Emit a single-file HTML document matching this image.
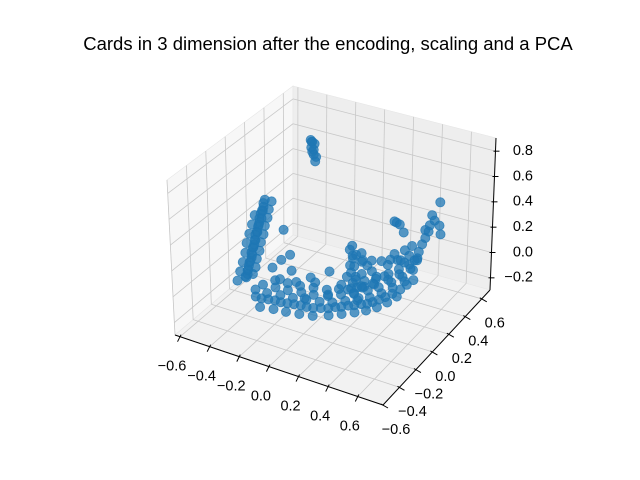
<!DOCTYPE html>
<html><head><meta charset="utf-8"><style>
html,body{margin:0;padding:0;background:#fff;}
svg{display:block;font-family:"Liberation Sans","DejaVu Sans",sans-serif;}
</style></head><body>
<svg id="chart" width="640" height="480" viewBox="0 0 640 480" xmlns="http://www.w3.org/2000/svg">
<rect width="640" height="480" fill="#fff"/>
<text x="328" y="50" text-anchor="middle" font-size="18.5" fill="#000">Cards in 3 dimension after the encoding, scaling and a PCA</text>
<g id="panes"></g>
<g id="grid"></g>
<g id="axes"></g>
<g id="points"></g>
</svg>
<script>
const xTicks=[-0.6,-0.4,-0.2,0.0,0.2,0.4,0.6];
const yTicks=[-0.6,-0.4,-0.2,0.0,0.2,0.4,0.6];
const zTicks=[-0.2,0.0,0.2,0.4,0.6,0.8];
const xTickLabels=["−0.6","−0.4","−0.2","0.0","0.2","0.4","0.6"];
const yTickLabels=["−0.6","−0.4","−0.2","0.0","0.2","0.4","0.6"];
const zTickLabels=["−0.2","0.0","0.2","0.4","0.6","0.8"];
const xVals=[
-0.25,-0.24,-0.23,-0.24,-0.23,-0.24,-0.23,-0.22,-0.22,-0.25,
-0.31,-0.32,-0.32,-0.33,-0.34,-0.35,-0.35,-0.36,-0.37,-0.38,-0.38,-0.39,-0.40,-0.41,-0.41,-0.42,-0.43,-0.44,-0.44,-0.45,
-0.30,-0.31,-0.33,-0.34,-0.36,-0.37,-0.38,-0.40,-0.41,-0.43,
-0.42,-0.38,-0.34,-0.30,-0.26,-0.22,-0.18,-0.14,-0.10,-0.06,-0.02,0.02,0.05,0.08,0.11,0.14,0.17,0.20,0.22,0.24,0.26,0.28,0.30,0.31,0.32,
-0.40,-0.32,-0.24,-0.16,-0.08,0.00,0.06,0.12,0.18,0.22,0.26,0.29,0.31,
-0.36,-0.28,-0.20,-0.12,-0.04,0.04,0.10,0.16,0.21,0.25,0.28,0.30,
0.05,0.10,0.15,0.20,0.24,0.27,0.30,0.32,-0.10,-0.20,-0.30,
0.14,0.16,0.15,0.17,0.16,0.18,0.17,0.19,0.18,0.20,0.13,0.12,0.14,0.21,0.22,0.20,
0.32,0.33,0.34,0.35,0.30,0.31,0.36,0.28,0.26,0.24,
0.38,0.36,0.40,0.37,
0.46,0.265,0.29,0.30,0.157,-0.25,-0.27,-0.24,-0.30,-0.20,-0.10,0.00,-0.05,0.05,0.10,0.22,0.40,0.42,
-0.29,-0.31,-0.32,-0.34,-0.35,-0.37,-0.38,-0.40,-0.41,-0.43,
-0.33,-0.35,-0.37,-0.39,-0.40,-0.42,-0.44,-0.46,
-0.44,-0.36,-0.28,-0.20,-0.12,-0.04,0.03,0.09,0.15,0.20,0.24,0.27,0.30,
-0.34,-0.26,-0.18,-0.10,-0.02,0.04,0.10,0.16,0.20,0.25,0.28,0.31,
0.18,0.20,0.22,0.24,0.19,0.23,0.25,0.27,0.26,0.28,0.30,0.16,0.21,0.29,0.33];
const yVals=[
0.30,0.30,0.31,0.29,0.30,0.30,0.30,0.31,0.30,0.31,
-0.10,-0.10,-0.10,-0.10,-0.10,-0.10,-0.10,-0.10,-0.10,-0.10,-0.10,-0.10,-0.10,-0.10,-0.10,-0.10,-0.10,-0.10,-0.10,-0.10,
-0.14,-0.14,-0.14,-0.14,-0.14,-0.14,-0.14,-0.14,-0.14,-0.14,
-0.05,-0.05,-0.04,-0.03,-0.03,-0.02,-0.01,0.00,0.00,0.01,0.03,0.05,0.08,0.10,0.13,0.15,0.18,0.20,0.23,0.27,0.31,0.36,0.42,0.48,0.54,
0.00,0.01,0.02,0.04,0.05,0.08,0.13,0.18,0.24,0.30,0.38,0.46,0.55,
-0.10,-0.08,-0.07,-0.05,-0.03,0.02,0.07,0.12,0.17,0.23,0.30,0.38,
0.15,0.20,0.25,0.30,0.38,0.45,0.52,0.58,0.10,0.05,0.03,
0.10,0.10,0.12,0.10,0.08,0.10,0.12,0.10,0.08,0.10,0.12,0.10,0.08,0.12,0.10,0.14,
0.55,0.58,0.60,0.62,0.52,0.60,0.64,0.50,0.45,0.40,
0.62,0.60,0.64,0.66,
0.60,0.40,0.42,0.45,0.10,0.00,0.00,0.05,-0.05,0.00,0.05,0.10,-0.10,0.00,0.30,0.50,0.70,0.68,
-0.06,-0.06,-0.06,-0.06,-0.06,-0.06,-0.06,-0.06,-0.06,-0.06,
-0.18,-0.18,-0.18,-0.18,-0.18,-0.18,-0.18,-0.18,
-0.02,-0.02,0.00,0.01,0.03,0.05,0.08,0.13,0.17,0.23,0.30,0.38,0.47,
0.04,0.05,0.06,0.08,0.10,0.14,0.18,0.23,0.28,0.36,0.44,0.52,
0.18,0.20,0.22,0.24,0.16,0.20,0.28,0.32,0.30,0.38,0.42,0.14,0.25,0.48,0.50];
const zVals=[
0.83,0.82,0.80,0.78,0.76,0.74,0.72,0.70,0.67,0.81,
0.58,0.55,0.52,0.49,0.46,0.42,0.39,0.35,0.31,0.28,0.24,0.20,0.17,0.13,0.09,0.06,0.02,-0.02,-0.05,-0.08,
0.52,0.46,0.40,0.34,0.27,0.21,0.15,0.08,0.02,-0.04,
-0.25,-0.25,-0.25,-0.25,-0.25,-0.25,-0.25,-0.25,-0.25,-0.25,-0.25,-0.25,-0.25,-0.25,-0.25,-0.25,-0.25,-0.25,-0.25,-0.25,-0.25,-0.25,-0.25,-0.25,-0.25,
-0.18,-0.18,-0.18,-0.18,-0.18,-0.18,-0.18,-0.18,-0.18,-0.18,-0.18,-0.18,-0.18,
-0.28,-0.28,-0.28,-0.28,-0.28,-0.28,-0.28,-0.28,-0.28,-0.28,-0.28,-0.28,
-0.12,-0.12,-0.12,-0.12,-0.12,-0.12,-0.12,-0.12,-0.12,-0.12,-0.12,
0.22,0.18,0.14,0.10,0.06,0.02,-0.02,-0.06,-0.10,-0.14,0.08,0.00,-0.08,0.04,-0.04,0.12,
-0.10,-0.05,0.00,0.04,-0.05,-0.12,0.08,0.00,-0.05,-0.02,
0.15,0.12,0.18,0.20,
0.37,0.29,0.26,0.18,0.256,0.304,0.06,0.08,0.02,0.00,-0.05,0.00,-0.10,-0.10,0.05,0.20,0.10,0.05,
0.55,0.48,0.41,0.34,0.27,0.20,0.13,0.06,-0.01,-0.07,
0.50,0.42,0.34,0.26,0.18,0.10,0.02,-0.06,
-0.22,-0.22,-0.22,-0.22,-0.22,-0.22,-0.22,-0.22,-0.22,-0.22,-0.22,-0.22,-0.22,
-0.15,-0.15,-0.15,-0.15,-0.15,-0.15,-0.15,-0.15,-0.15,-0.15,-0.15,-0.15,
0.10,0.05,0.00,-0.05,-0.10,0.10,0.05,0.00,-0.08,0.05,-0.02,0.16,-0.12,-0.08,0.05];

const XMIN=-0.634,XMAX=0.77,YMIN=-0.6,YMAX=0.7,ZMIN=-0.296,ZMAX=0.904;
const F00=[175,335],F10=[383,405],F01=[293,235],F11=[490,290];
const T00=[167,180],T10=[381,250],T01=[293,86],T11=[496,138];
function bil(a,b,c,d,u,v){return [a[0]*(1-u)*(1-v)+b[0]*u*(1-v)+c[0]*(1-u)*v+d[0]*u*v, a[1]*(1-u)*(1-v)+b[1]*u*(1-v)+c[1]*(1-u)*v+d[1]*u*v];}
function proj(x,y,z){
 const u=(x-XMIN)/(XMAX-XMIN),v=(y-YMIN)/(YMAX-YMIN),w=(z-ZMIN)/(ZMAX-ZMIN);
 const b=bil(F00,F10,F01,F11,u,v),t=bil(T00,T10,T01,T11,u,v);
 return [b[0]+(t[0]-b[0])*w,b[1]+(t[1]-b[1])*w];
}
const NS="http://www.w3.org/2000/svg";
function mk(tag,parent,attrs){const e=document.createElementNS(NS,tag);for(const k in attrs)e.setAttribute(k,attrs[k]);parent.appendChild(e);return e;}
const panes=document.getElementById('panes'),grid=document.getElementById('grid'),axes=document.getElementById('axes'),pts=document.getElementById('points');
function poly(ps,fill,name){const p=mk('polygon',panes,{points:ps.map(q=>q.join(',')).join(' '),fill:fill,stroke:'#e6e6e6','stroke-width':0.6});

}
poly([F00,F01,T01,T00],'#f7f7f7','left-pane');
poly([F01,F11,T11,T01],'#eeeeee','right-pane');
poly([F00,F10,F11,F01],'#f2f2f2','floor-pane');
function gl(a,b,name){const l=mk('line',grid,{x1:a[0],y1:a[1],x2:b[0],y2:b[1],stroke:'#c8c8c8','stroke-width':0.8});

}
xTicks.forEach(x=>{gl(proj(x,YMIN,ZMIN),proj(x,YMAX,ZMIN),'x-gridline');gl(proj(x,YMAX,ZMIN),proj(x,YMAX,ZMAX),'x-gridline');});
yTicks.forEach(y=>{gl(proj(XMIN,y,ZMIN),proj(XMAX,y,ZMIN),'y-gridline');gl(proj(XMIN,y,ZMIN),proj(XMIN,y,ZMAX),'y-gridline');});
zTicks.forEach(z=>{gl(proj(XMIN,YMIN,z),proj(XMIN,YMAX,z),'z-gridline');gl(proj(XMIN,YMAX,z),proj(XMAX,YMAX,z),'z-gridline');});
function al(a,b,name){const l=mk('line',axes,{x1:a[0],y1:a[1],x2:b[0],y2:b[1],stroke:'#000','stroke-width':1});

}
al(F00,F10,'x-axis-line');al(F10,F11,'y-axis-line');al(F11,T11,'z-axis-line');
function tl(x,y,txt,anchor,name){const t=mk('text',axes,{x:x,y:y,'text-anchor':anchor,'font-size':14.5,fill:'#000','dominant-baseline':'middle'});t.textContent=txt;

}
xTicks.forEach((x,i)=>{const p=proj(x,YMIN,ZMIN);al([p[0]+1,p[1]-2],[p[0]-2.5,p[1]+5],'x-tick');tl(p[0]-8,p[1]+30,xTickLabels[i],'middle','x-tick-label');});
yTicks.forEach((y,i)=>{const p=proj(XMAX,y,ZMIN);al([p[0]-2,p[1]-1],[p[0]+5,p[1]+3],'y-tick');tl(p[0]+13,p[1]+25,yTickLabels[i],'middle','y-tick-label');});
zTicks.forEach((z,i)=>{const p=proj(XMAX,YMAX,z);al([p[0]-2,p[1]],[p[0]+4,p[1]],'z-tick');tl(533,p[1],zTickLabels[i],'end','z-tick-label');});
const order=xVals.map((_,i)=>i).sort((a,b)=>(xVals[a]-yVals[a])-(xVals[b]-yVals[b]));
order.forEach(i=>{const p=proj(xVals[i],yVals[i],zVals[i]);
 const c=mk('circle',pts,{cx:p[0].toFixed(1),cy:p[1].toFixed(1),r:4.6,fill:'#1f77b4',stroke:'#1f77b4','stroke-width':0.8,'fill-opacity':0.75,'stroke-opacity':0.75});
 
 
});
</script>
</body></html>
